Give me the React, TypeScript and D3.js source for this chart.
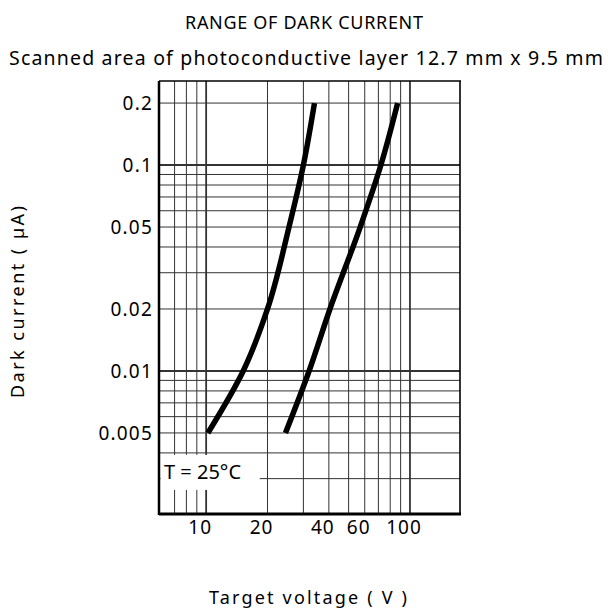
import React from 'react';
import * as d3 from 'd3';

// grid of the log-log paper
const xGrid = [7, 8, 9, 10, 20, 30, 40, 50, 60, 70, 80, 90, 100];
const xMajor = [10, 100];
const yGrid = [0.2, 0.1, 0.09, 0.08, 0.07, 0.06, 0.05, 0.04, 0.03, 0.02, 0.01, 0.009, 0.008, 0.007, 0.006, 0.005, 0.004, 0.003];
const yMajor = [0.1, 0.01];

const xTicks = [10, 20, 40, 60, 100];
const xTickLabels = ['10', '20', '40', '60', '100'];
const yTicks = [0.2, 0.1, 0.05, 0.02, 0.01, 0.005];
const yTickLabels = ['0.2', '0.1', '0.05', '0.02', '0.01', '0.005'];

// the two boundary curves of the range (voltage V, current uA)
const lowerVolts = [10.2, 15.2, 20, 25.5, 30, 34];
const lowerCurrent = [0.005, 0.01, 0.02, 0.05, 0.1, 0.2];
const upperVolts = [24.5, 32, 40.5, 57, 72, 87];
const upperCurrent = [0.005, 0.01, 0.02, 0.05, 0.1, 0.2];

const font = '"Noto Sans", sans-serif';

const App = () => {
  const width = 608;
  const height = 611;

  const x = d3.scaleLog().domain([5.87, 176]).range([159, 460]);
  const y = d3.scaleLog().domain([0.00202, 0.256]).range([514, 81]);

  const [x0, x1] = x.range();
  const [y0, y1] = y.range();

  const line = d3
    .line<[number, number]>()
    .x((d) => x(d[0]))
    .y((d) => y(d[1]))
    .curve(d3.curveMonotoneY);

  const lower = lowerVolts.map((v, i) => [v, lowerCurrent[i]] as [number, number]);
  const upper = upperVolts.map((v, i) => [v, upperCurrent[i]] as [number, number]);

  return (
    <svg width={width} height={height} style={{ position: 'absolute', left: 0, top: 0, background: '#fff' }}>
      <text x={304} y={29} textAnchor="middle" fontFamily={font} fontSize={18} textLength={238} lengthAdjust="spacing">
        RANGE OF DARK CURRENT
      </text>
      <text x={306} y={65} textAnchor="middle" fontFamily={font} fontSize={19.5} textLength={594} lengthAdjust="spacing">
        Scanned area of photoconductive layer 12.7 mm x 9.5 mm
      </text>

      {/* grid */}
      <g stroke="#333">
        {xGrid.map((v) => (
          <line key={'gx' + v} x1={x(v)} x2={x(v)} y1={y1} y2={y0} strokeWidth={xMajor.includes(v) ? 1.8 : 1} />
        ))}
        {yGrid.map((v) => (
          <line key={'gy' + v} x1={x0} x2={x1} y1={y(v)} y2={y(v)} strokeWidth={yMajor.includes(v) ? 2 : 1} />
        ))}
      </g>

      {/* curves */}
      <path d={line(lower) ?? ''} fill="none" stroke="#000" strokeWidth={5.5} />
      <path d={line(upper) ?? ''} fill="none" stroke="#000" strokeWidth={5.5} />

      {/* temperature note */}
      <rect x={x0 + 1.5} y={y(0.004) + 2} width={x(18) - x0} height={35} fill="#fff" />
      <text x={164} y={479} fontFamily={font} fontSize={20}>
        T = 25°C
      </text>

      {/* frame */}
      <line x1={x0} x2={x0} y1={y1} y2={y0 + 1} stroke="#000" strokeWidth={2.5} />
      <line x1={x0} x2={x1 + 1} y1={y0} y2={y0} stroke="#000" strokeWidth={3} />
      <line x1={x1} x2={x1} y1={y1} y2={y0} stroke="#000" strokeWidth={1.6} />
      <line x1={x0} x2={x1 + 1} y1={y1} y2={y1} stroke="#000" strokeWidth={1.6} />

      {/* tick labels */}
      {yTicks.map((v, i) => (
        <text key={'ty' + v} x={153} y={y(v)} dy="0.35em" textAnchor="end" fontFamily={font} fontSize={19} letterSpacing={1.2}>
          {yTickLabels[i]}
        </text>
      ))}
      {xTicks.map((v, i) => (
        <text key={'tx' + v} x={x(v) - 6} y={534} textAnchor="middle" fontFamily={font} fontSize={19} letterSpacing={1}>
          {xTickLabels[i]}
        </text>
      ))}

      {/* axis titles */}
      <text transform="translate(24,302) rotate(-90)" textAnchor="middle" fontFamily={font} fontSize={18} textLength={192} lengthAdjust="spacing">
        Dark current ( µA)
      </text>
      <text x={308} y={604} textAnchor="middle" fontFamily={font} fontSize={18} textLength={198} lengthAdjust="spacing">
        Target voltage ( V )
      </text>
    </svg>
  );
};

export default App;
